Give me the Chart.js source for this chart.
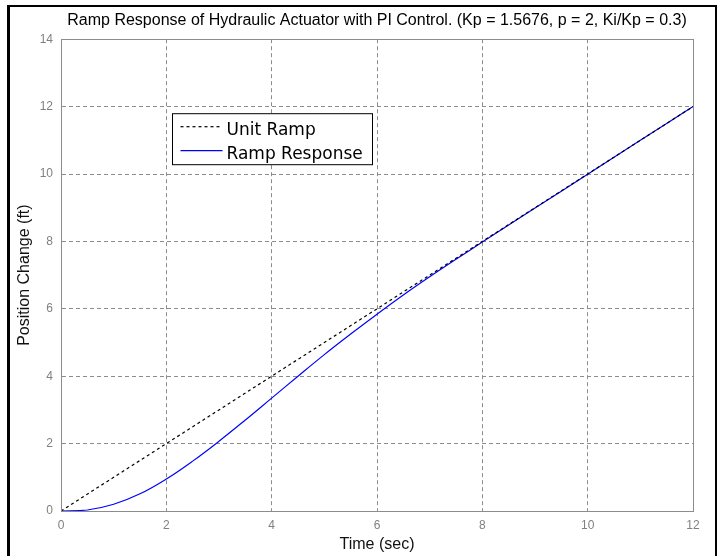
<!DOCTYPE html>
<html>
<head>
<meta charset="utf-8">
<script src="https://cdn.jsdelivr.net/npm/chart.js@4.4.1/dist/chart.umd.min.js"></script>
<style>
  html, body { margin: 0; padding: 0; background: #fff; }
  #wrap { width: 723px; height: 556px; position: relative; }
</style>
</head>
<body>
<div id="wrap"><canvas id="myChart"></canvas></div>
<script>
// time axis (sec) and the two curves
var rampTime = [0, 12];
var unitRamp = [0, 12];
var respTime = [0, 0.5, 1, 1.5, 2, 2.5, 3, 3.5, 4, 4.5, 5, 5.5, 6, 6.5, 7, 7.5, 8, 9, 10, 11, 12];
var rampResp = [0, 0.03, 0.2, 0.51, 0.95, 1.48, 2.07, 2.7, 3.35, 4.0, 4.64, 5.25, 5.84, 6.41, 6.95, 7.47, 7.98, 8.99, 9.99, 11.0, 12.0];
var xTicks = [0, 2, 4, 6, 8, 10, 12];
var yTicks = [0, 2, 4, 6, 8, 10, 12, 14];

function toPoints(xs, ys) {
    return xs.map((x, i) => ({ x: x, y: ys[i] }));
}

// white page + black outer frame
var framePlugin = {
    id: 'frame',
    beforeDraw(chart) {
        let c = chart.ctx;
        c.save();
        c.fillStyle = '#fff';
        c.fillRect(0, 0, chart.width, chart.height);
        c.restore();
    },
    afterDraw(chart) {
        let c = chart.ctx;
        let a = chart.chartArea;
        c.save();
        // plot box
        c.strokeStyle = '#8c8c8c';
        c.lineWidth = 1;
        c.strokeRect(Math.round(a.left) + 0.5, Math.round(a.top) + 0.5, Math.round(a.right - a.left), Math.round(a.bottom - a.top));
        // figure frame
        c.fillStyle = '#000';
        c.fillRect(7, 5, 3, chart.height - 5);
        c.fillRect(7, 5, 710, 2);
        c.fillRect(715, 5, 2, chart.height - 5);
        c.restore();
    }
};

// legend box inside the axes, matlab style
var boxLegend = {
    id: 'boxLegend',
    afterDatasetsDraw(chart) {
        let c = chart.ctx;
        let a = chart.chartArea;
        let x0 = a.left + 111.5, y0 = a.top + 74.5;
        c.save();
        c.fillStyle = '#fff';
        c.fillRect(x0, y0, 200, 51);
        c.strokeStyle = '#000';
        c.lineWidth = 1;
        c.strokeRect(x0, y0, 200, 51);
        c.font = '17px "DejaVu Sans"';
        c.textBaseline = 'alphabetic';
        chart.data.datasets.forEach((ds, i) => {
            let ly = y0 + 13 + i * 24;
            c.strokeStyle = ds.borderColor;
            c.lineWidth = ds.borderWidth;
            c.setLineDash(ds.borderDash || []);
            c.beginPath();
            c.moveTo(x0 + 8, ly);
            c.lineTo(x0 + 50, ly);
            c.stroke();
            c.setLineDash([]);
            c.fillStyle = '#000';
            c.fillText(ds.label, x0 + 54, ly + 8);
        });
        c.restore();
    }
};

var config = {
    type: 'line',
    data: {
        datasets: [
            {
                label: 'Unit Ramp',
                data: toPoints(rampTime, unitRamp),
                borderColor: '#000',
                borderWidth: 1.2,
                borderDash: [3, 3],
                pointRadius: 0,
                fill: false
            },
            {
                label: 'Ramp Response',
                data: toPoints(respTime, rampResp),
                borderColor: '#0000ff',
                borderWidth: 1.2,
                pointRadius: 0,
                tension: 0.4,
                fill: false
            }
        ]
    },
    options: {
        responsive: false,
        animation: false,
        devicePixelRatio: 1,
        layout: { padding: { left: 0, right: 30, top: 0, bottom: 0 } },
        plugins: {
            legend: { display: false },
            tooltip: { enabled: false },
            title: {
                display: true,
                fullSize: false,
                text: 'Ramp Response of Hydraulic Actuator with PI Control. (Kp = 1.5676, p = 2, Ki/Kp = 0.3)',
                color: '#000',
                font: { family: '"Liberation Sans", Arial', size: 16, weight: 'normal' },
                padding: { top: 11, bottom: 9 }
            }
        },
        scales: {
            x: {
                type: 'linear',
                min: 0,
                max: 12,
                afterBuildTicks: s => { s.ticks = xTicks.map(v => ({ value: v })); },
                afterFit: s => { s.height = 45; },
                ticks: { color: '#808080', padding: 7, font: { family: '"Liberation Sans", Arial', size: 12 } },
                grid: { color: '#8c8c8c', drawTicks: false, lineWidth: 1 },
                border: { color: '#8c8c8c', dash: [4, 3] },
                title: {
                    display: true,
                    text: 'Time (sec)',
                    color: '#111',
                    font: { family: '"Liberation Sans", Arial', size: 16 },
                    padding: { top: 0, bottom: 2 }
                }
            },
            y: {
                type: 'linear',
                min: 0,
                max: 14,
                afterBuildTicks: s => { s.ticks = yTicks.map(v => ({ value: v })); },
                afterFit: s => { s.width = 61; },
                ticks: { color: '#808080', padding: 8, font: { family: '"Liberation Sans", Arial', size: 12 } },
                grid: { color: '#8c8c8c', drawTicks: false, lineWidth: 1 },
                border: { color: '#8c8c8c', dash: [4, 3] },
                title: {
                    display: true,
                    text: 'Position Change (ft)',
                    color: '#111',
                    font: { family: '"Liberation Sans", Arial', size: 16 },
                    padding: { top: 15, bottom: 0 }
                }
            }
        }
    },
    plugins: [framePlugin, boxLegend]
};

var canvas = document.getElementById('myChart');
canvas.width = 723;
canvas.height = 556;
var myChart = new Chart(canvas.getContext('2d'), config);
</script>
</body>
</html>
